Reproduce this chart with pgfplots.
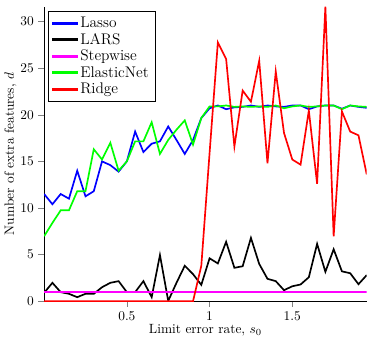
\documentclass[border=0pt]{standalone}
\usepackage{pgfplots}
\pgfplotsset{compat=1.18}
\usepackage{pgfplotstable}
\definecolor{cblue}{RGB}{0,0,255}
\definecolor{cblack}{RGB}{0,0,0}
\definecolor{cmag}{RGB}{255,0,255}
\definecolor{cgreen}{RGB}{0,255,0}
\definecolor{cred}{RGB}{255,0,0}
\pgfplotstableread{
x lasso lars stepw enet ridge
0.00 11.5 0.9 1 6.97 0
0.05 10.4 1.97 1 8.4 0
0.10 11.5 0.97 1 9.75 0
0.15 11.0 0.79 1 9.75 0
0.20 14.0 0.43 1 11.8 0
0.25 11.25 0.79 1 11.8 0
0.30 11.8 0.79 1 16.3 0
0.35 15.0 1.5 1 15.2 0
0.40 14.6 1.97 1 17.0 0
0.45 13.9 2.15 1 14.0 0
0.50 15.0 0.97 1 15.0 0
0.55 18.2 0.97 1 17.15 0
0.60 16.0 2.15 1 17.15 0
0.65 16.9 0.43 1 19.2 0
0.70 17.15 4.95 1 15.8 0
0.75 18.75 0.03 1 17.3 0
0.80 17.3 1.97 1 18.4 0
0.85 15.8 3.8 1 19.4 0
0.90 17.3 2.9 1 16.8 0
0.95 19.65 1.75 1 19.65 3.8
1.00 20.7 4.6 1 20.9 15.9
1.05 21.0 4.05 1 20.9 27.76
1.10 20.6 6.37 1 21.0 26.0
1.15 20.8 3.58 1 20.85 16.6
1.20 20.85 3.75 1 20.9 22.6
1.25 21.0 6.79 1 20.85 21.4
1.30 20.85 4.0 1 20.9 25.8
1.35 21.0 2.4 1 20.85 14.8
1.40 20.9 2.15 1 21.0 24.65
1.45 20.85 1.18 1 20.7 18.05
1.50 21.0 1.6 1 20.9 15.2
1.55 21.0 1.79 1 21.0 14.65
1.60 20.6 2.57 1 20.85 20.45
1.65 20.9 6.15 1 20.9 12.6
1.70 21.0 3.15 1 21.0 31.6
1.75 21.0 5.57 1 21.0 6.97
1.80 20.65 3.2 1 20.6 20.36
1.85 21.0 3.0 1 21.0 18.2
1.90 20.85 1.82 1 20.9 17.8
1.95 20.75 2.8 1 20.85 13.6
}\datatable
\begin{document}
\begin{tikzpicture}
\begin{axis}[
  scale only axis,
  width=241pt, height=220pt,
  xmin=0, xmax=1.95, ymin=0, ymax=31.6,
  axis x line*=bottom, axis y line*=left,
  tick align=outside,
  xtick={0.5,1,1.5}, ytick={0,5,10,15,20,25,30},
  xticklabels={0.5,1,1.5},
  xlabel={Limit error rate, $s_0$},
  ylabel={Number of extra features, $d$},
  xlabel style={yshift=4pt},
  ylabel style={yshift=-4pt},
  legend style={at={(0.012,0.984)}, anchor=north west, row sep=-1.2pt, font=\fontsize{11.5}{13}\selectfont},
  legend cell align=left,
  legend image code/.code={\fill[#1] (0cm,-0.5pt) rectangle (0.62cm,0.5pt);},
]
\addplot[color=cblue, line width=1.25pt] table[x=x,y=lasso]{\datatable};
\addlegendentry{Lasso}
\addplot[color=cblack, line width=1.25pt] table[x=x,y=lars]{\datatable};
\addlegendentry{LARS}
\addplot[color=cmag, line width=1.25pt] table[x=x,y=stepw]{\datatable};
\addlegendentry{Stepwise}
\addplot[color=cgreen, line width=1.25pt] table[x=x,y=enet]{\datatable};
\addlegendentry{ElasticNet}
\addplot[color=cred, line width=1.25pt] table[x=x,y=ridge]{\datatable};
\addlegendentry{Ridge}
\end{axis}
\path (current axis.north) ++(0,5pt);
\end{tikzpicture}
\end{document}
